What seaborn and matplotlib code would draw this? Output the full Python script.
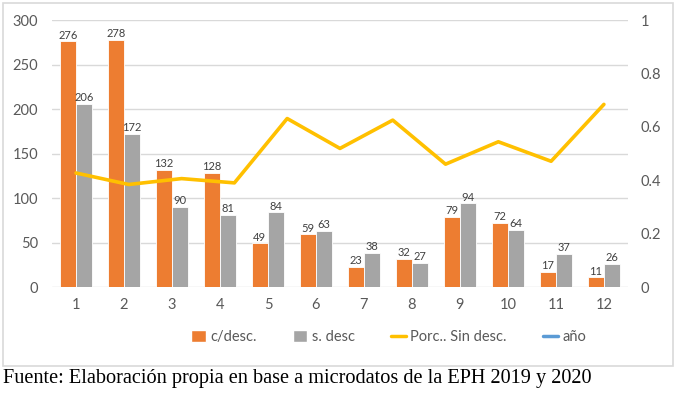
import numpy as np
import pandas as pd
import matplotlib
matplotlib.use('Agg')
import matplotlib.pyplot as plt
import seaborn as sns
from matplotlib.patches import Patch, Rectangle
from matplotlib.lines import Line2D

# datos
meses = [1, 2, 3, 4, 5, 6, 7, 8, 9, 10, 11, 12]
c_desc = [276, 278, 132, 128, 49, 59, 23, 32, 79, 72, 17, 11]
s_desc = [206, 172, 90, 81, 84, 63, 38, 27, 94, 64, 37, 26]
porc_sin_desc = [0.427, 0.384, 0.406, 0.390, 0.631, 0.519, 0.625, 0.460, 0.544, 0.471, 0.684]
series = ['c/desc.', 's. desc', 'Porc.. Sin desc.', 'año']

naranja = '#ED7D31'
gris = '#A5A5A5'
amarillo = '#FFC000'
azul = '#5B9BD5'
txt = '#595959'

sns.set_style('white')
plt.rcParams['font.family'] = ['Lato', 'DejaVu Sans']

df = pd.DataFrame({'mes': meses * 2,
                   'serie': [series[0]] * 12 + [series[1]] * 12,
                   'valor': c_desc + s_desc})

fig = plt.figure(figsize=(6.9, 3.93), dpi=100)
ax = fig.add_axes([0.0754, 0.2697, 0.8346, 0.6794])

sns.barplot(data=df, x='mes', y='valor', hue='serie', palette=[naranja, gris],
            saturation=1, width=0.68, gap=0, edgecolor='white', linewidth=0.6,
            ax=ax, legend=False)
for cont in ax.containers:
    ax.bar_label(cont, fmt='%d', padding=0.5, fontsize=8, color='#404040')

ax.set_ylim(0, 300)
ax.set_yticks(range(0, 301, 50))
ax.set_xlim(-0.5, 11.5)
ax.grid(axis='y', color='#D9D9D9', linewidth=1)
ax.set_axisbelow(True)
for s in ax.spines.values():
    s.set_visible(False)
ax.tick_params(axis='both', length=0, colors=txt, labelsize=10.5)
ax.tick_params(axis='x', pad=8)
ax.tick_params(axis='y', pad=10)
ax.set_xlabel('')
ax.set_ylabel('')

# eje secundario (porcentaje), con su propio eje horizontal de 11 puntos
ax2 = ax.twinx()
ax2.set_ylim(0, 1)
ax2.set_yticks([0, 0.2, 0.4, 0.6, 0.8, 1])
ax2.set_yticklabels(['0', '0.2', '0.4', '0.6', '0.8', '1'])
ax2.tick_params(axis='y', length=0, colors=txt, labelsize=10.5, pad=9)
for s in ax2.spines.values():
    s.set_visible(False)

ax3 = ax2.twiny()
n = len(porc_sin_desc)
pad = 0.5 * (n - 1) / (len(meses) - 1)
sns.lineplot(x=np.arange(n), y=porc_sin_desc, color=amarillo, linewidth=2.6, ax=ax3)
ax3.set_xlim(-pad, n - 1 + pad)
ax3.set_ylim(0, 1)
ax3.set_xticks([])
for s in ax3.spines.values():
    s.set_visible(False)

handles = [Patch(facecolor=naranja), Patch(facecolor=gris),
           Line2D([], [], color=amarillo, linewidth=2.5),
           Line2D([], [], color=azul, linewidth=2.5)]
fig.legend(handles, series, loc='center', bbox_to_anchor=(0.563, 0.142), ncol=4,
           frameon=False, fontsize=10.5, labelcolor=txt, handlelength=1.0,
           handleheight=0.9, handletextpad=0.3, columnspacing=2.5)

fig.patches.append(Rectangle((0.0043, 0.0687), 0.971, 0.923, transform=fig.transFigure,
                             fill=False, edgecolor='#D9D9D9', linewidth=1.2))

fig.text(0.004, 0.038, 'Fuente: Elaboración propia en base a microdatos de la EPH 2019 y 2020',
         family='Liberation Serif', fontsize=14.6, color='black', va='center')

fig.savefig('out.png', dpi=100)
